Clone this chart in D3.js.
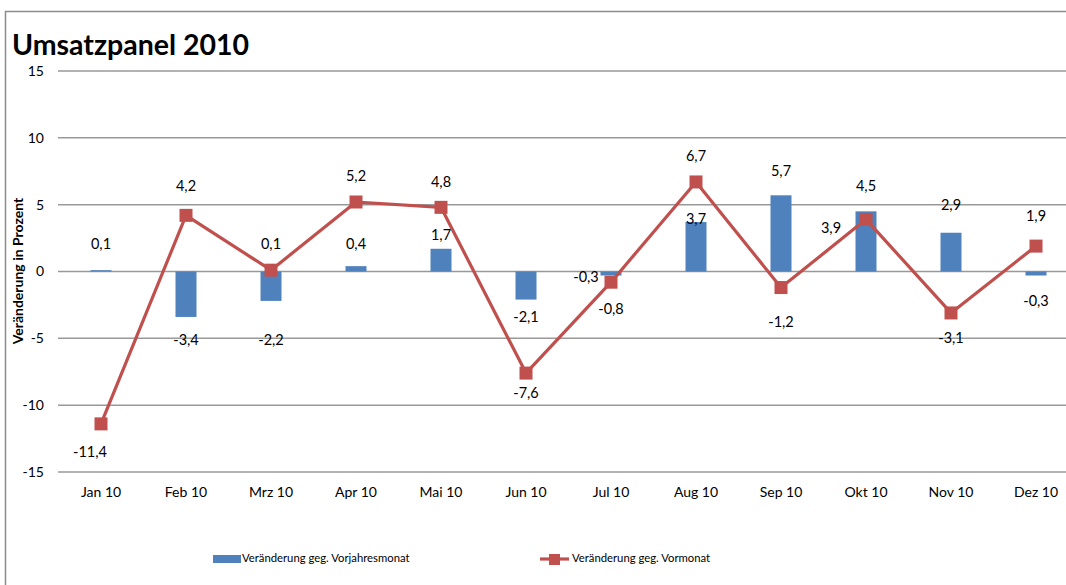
<!DOCTYPE html>
<html>
<head>
<meta charset="utf-8">
<script src="https://cdn.jsdelivr.net/npm/d3@7"></script>
<style>
  body { margin: 0; background: #fff; }
  svg { display: block; font-family: Lato, "Open Sans", sans-serif; }
</style>
</head>
<body>
<svg id="chart" width="1066" height="585"></svg>
<script>
// chart data
var months = ["Jan 10", "Feb 10", "Mrz 10", "Apr 10", "Mai 10", "Jun 10",
              "Jul 10", "Aug 10", "Sep 10", "Okt 10", "Nov 10", "Dez 10"];
var vorjahr = [0.1, -3.4, -2.2, 0.4, 1.7, -2.1, -0.3, 3.7, 5.7, 4.5, 2.9, -0.3];
var vormonat = [-11.4, 4.2, 0.1, 5.2, 4.8, -7.6, -0.8, 6.7, -1.2, 3.9, -3.1, 1.9];
var yTicks = [-15, -10, -5, 0, 5, 10, 15];
var seriesNames = ["Veränderung geg. Vorjahresmonat", "Veränderung geg. Vormonat"];

// label nudges [dx, dy] relative to the value point (hand placed in the original)
var barLabelShift = [[0,-25],[0,24],[0,40],[0,-21],[0,-12],[0,19],[-25,3],[0,-2],[0,-23],[0,-24],[0,-26],[0,27]];
var lineLabelShift = [[-11,29],[0,-28],[0,-25],[0,-25],[0,-24],[0,21],[0,28],[0,-25],[0,36],[-35,10],[0,26],[0,-29]];

var blue = "#4F81BD", red = "#C0504D", grid = "#999";
// german decimal comma, plain hyphen for minus like Excel
var fmt = function(v) { return d3.format(".1f")(v).replace(".", ",").replace("\u2212", "-"); };

var svg = d3.select("#chart");

// outer chart border (cropped on right/bottom like the source)
svg.append("rect")
    .attr("x", 5.5).attr("y", 11.5)
    .attr("width", 1100).attr("height", 620)
    .attr("fill", "none").attr("stroke", "#8c8c8c").attr("stroke-width", 1.5);

svg.append("text")
    .attr("x", 12).attr("y", 55)
    .attr("font-size", 28.5).attr("font-weight", "bold")
    .text("Umsatzpanel 2010");

var x = d3.scaleBand().domain(months).range([58.5, 1078.5]);
var y = d3.scaleLinear().domain([-15, 15]).range([472, 71]);

var g = svg.append("g");

// gridlines
g.selectAll("line.grid").data(yTicks).enter().append("line")
    .attr("class", "grid")
    .attr("x1", 58).attr("x2", 1066)
    .attr("y1", function(d) { return y(d); })
    .attr("y2", function(d) { return y(d); })
    .attr("stroke", grid).attr("stroke-width", 1.5);

// y axis labels
var yAxis = d3.axisLeft(y).tickValues(yTicks).tickSize(0).tickPadding(0);
var ya = svg.append("g").attr("transform", "translate(44,0)").call(yAxis);
ya.select(".domain").remove();
ya.selectAll("text").attr("font-size", 14).attr("font-family", "Lato, sans-serif").attr("fill", "#000")
    .text(function(d) { return String(d); });

// x axis labels
var xAxis = d3.axisBottom(x).tickSize(0).tickPadding(0);
var xa = svg.append("g").attr("transform", "translate(0,487)").call(xAxis);
xa.select(".domain").remove();
xa.selectAll("text").attr("font-size", 14).attr("font-family", "Lato, sans-serif").attr("fill", "#000");

svg.append("text")
    .attr("transform", "translate(23,271) rotate(-90)")
    .attr("text-anchor", "middle")
    .attr("font-size", 14).attr("font-weight", "bold")
    .text("Veränderung in Prozent");

// bars
var bw = 21;
g.selectAll("rect.bar").data(vorjahr).enter().append("rect")
    .attr("class", "bar")
    .attr("x", function(d, i) { return x(months[i]) + x.bandwidth() / 2 - bw / 2; })
    .attr("y", function(d) { return Math.min(y(d), y(0)); })
    .attr("width", bw)
    .attr("height", function(d) { return Math.abs(y(d) - y(0)); })
    .attr("fill", blue);

// line
var cx = function(d, i) { return x(months[i]) + x.bandwidth() / 2; };
var line = d3.line().x(cx).y(function(d) { return y(d); });
g.append("path").datum(vormonat)
    .attr("d", line)
    .attr("fill", "none").attr("stroke", red).attr("stroke-width", 3.2)
    .attr("stroke-linejoin", "round");

var ms = 13;
g.selectAll("rect.marker").data(vormonat).enter().append("rect")
    .attr("class", "marker")
    .attr("x", function(d, i) { return cx(d, i) - ms / 2; })
    .attr("y", function(d) { return y(d) - ms / 2; })
    .attr("width", ms).attr("height", ms)
    .attr("fill", red);

// data labels
function addLabels(data, shift) {
    g.append("g").selectAll("text").data(data).enter().append("text")
        .attr("x", function(d, i) { return cx(d, i) + shift[i][0]; })
        .attr("y", function(d, i) { return y(d) + shift[i][1]; })
        .attr("text-anchor", "middle")
        .attr("dominant-baseline", "middle")
        .attr("font-size", 14.5)
        .text(fmt);
}
addLabels(vorjahr, barLabelShift);
addLabels(vormonat, lineLabelShift);

// legend
var lg = svg.append("g").attr("font-size", 11.3);
lg.append("rect").attr("x", 213).attr("y", 555).attr("width", 28).attr("height", 8).attr("fill", blue);
lg.append("text").attr("x", 242).attr("y", 559).attr("dominant-baseline", "middle").text(seriesNames[0]);
lg.append("line").attr("x1", 540).attr("x2", 569).attr("y1", 559).attr("y2", 559)
    .attr("stroke", red).attr("stroke-width", 3.2);
lg.append("rect").attr("x", 549).attr("y", 554).attr("width", 11).attr("height", 11).attr("fill", red);
lg.append("text").attr("x", 572).attr("y", 559).attr("dominant-baseline", "middle").text(seriesNames[1]);
</script>
</body>
</html>
